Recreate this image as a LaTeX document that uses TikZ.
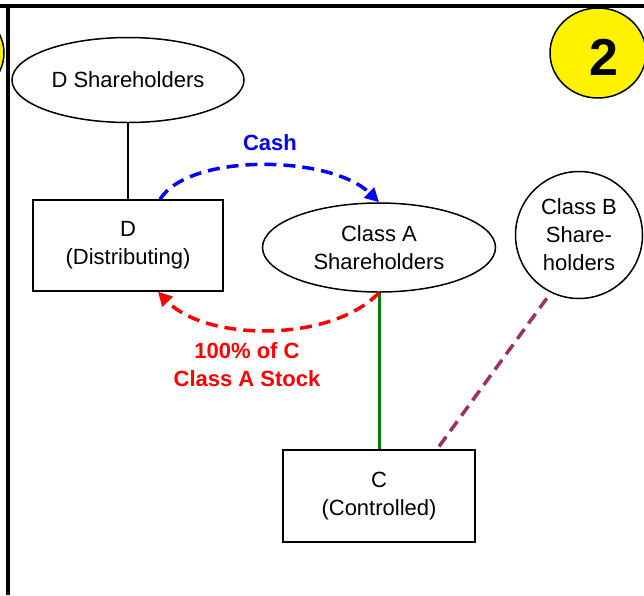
\documentclass[tikz,border=0pt]{standalone}
\usepackage{fontspec}
\setmainfont{Liberation Sans}
\usetikzlibrary{shapes.geometric,arrows.meta}
\definecolor{plum}{RGB}{153,51,102}
\definecolor{dkgreen}{RGB}{0,128,0}
\begin{document}
\begin{tikzpicture}[x=1pt, y=-1pt,
        txt/.style={font=\fontsize{22}{28}\selectfont, align=center, inner sep=0pt},
        oval/.style={txt, ellipse, draw, line width=1.5pt},
        box/.style={txt, rectangle, draw, line width=1.5pt},
        flow/.style={dashed, dash pattern=on 12pt off 7pt, line width=3.5pt, -{Triangle[length=14pt,width=14pt]}}]
        \clip (0,0) rectangle (644,595);
        \fill[white] (0,0) rectangle (644,595);
        
        % panel frame and numbers
        \draw[line width=3.5pt] (0,6) -- (644,6);
        \draw[line width=3.5pt] (8,6) -- (8,595);
        \draw[fill=yellow, line width=1.5pt] (-46,53) ellipse (50 and 45);
        \node[ellipse, draw, fill=yellow, line width=1.5pt, minimum width=96pt, minimum height=90pt] (num) at (598,53) {};
        \node[font=\fontsize{52}{52}\selectfont\bfseries] at (604,57) {2};
        
        % entities
        \node[oval, minimum width=232pt, minimum height=85pt] (dsh) at (128,80) {D Shareholders};
        \node[box, minimum width=190pt, minimum height=91pt] (dbox) at (128,245.5) {D\\(Distributing)};
        \node[oval, minimum width=233pt, minimum height=89pt] (clsA) at (379,247.5) {Class A\\Shareholders};
        \node[txt, circle, draw, line width=1.5pt, minimum size=127pt] (clsB) at (579,235) {Class B\\Share-\\holders};
        \node[box, minimum width=192pt, minimum height=92pt] (cbox) at (379,496) {C\\(Controlled)};
        
        % ownership lines
        \draw[line width=1.2pt] (dsh.south) -- (dbox.north);
        \draw[dkgreen, line width=3pt] (clsA.south) -- (cbox.north);
        \draw[plum, line width=3.5pt, dash pattern=on 12pt off 7pt, shorten <=7pt, shorten >=3pt] (clsB.244) -- ([xshift=58pt]cbox.north);
        
        % exchange
        \draw[flow, blue] ([xshift=32pt]dbox.north) .. controls +(30,-47) and +(-48,-47) .. (clsA.north);
        \draw[flow, red] (clsA.south) .. controls +(-48,50) and +(48,50) .. ([xshift=30pt]dbox.south);
        \node[txt, font=\fontsize{22}{28}\selectfont\bfseries, text=blue] (cash) at (270,143) {Cash};
        \node[txt, font=\fontsize{22}{28}\selectfont\bfseries, text=red] (stock) at (247,365) {100\% of C\\Class A Stock};
    \end{tikzpicture}
\end{document}
